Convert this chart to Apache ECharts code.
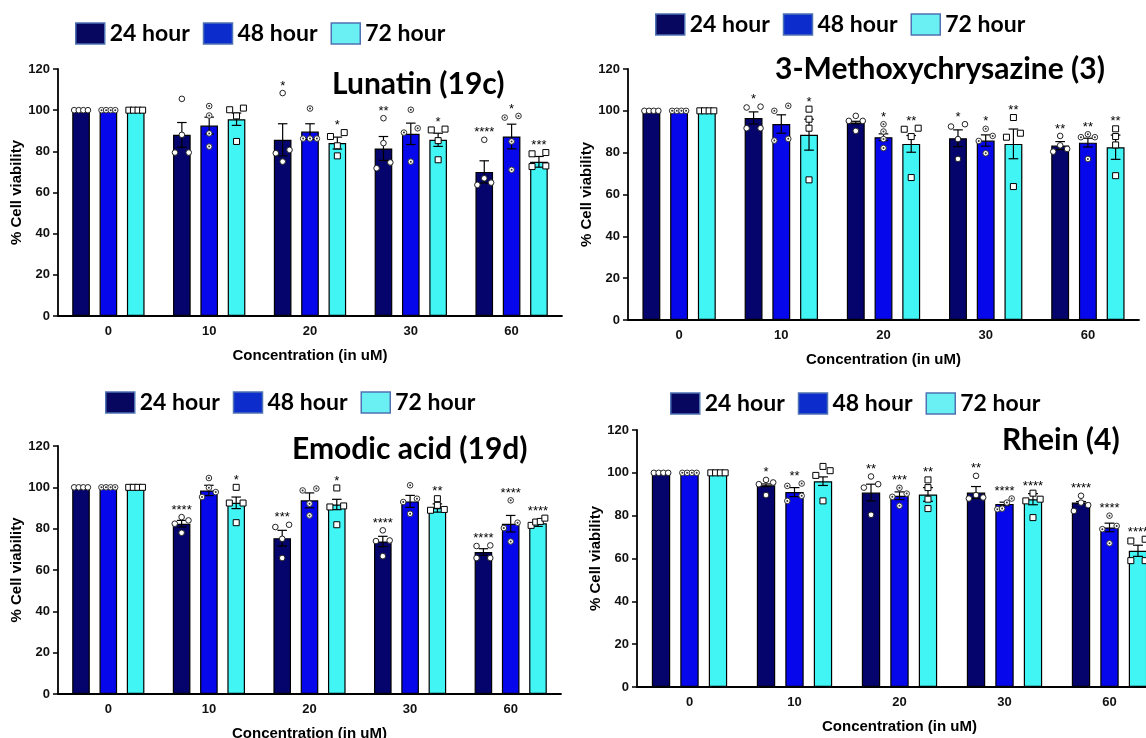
<!DOCTYPE html>
<html><head><meta charset="utf-8">
<script src="https://cdn.jsdelivr.net/npm/echarts@6/dist/echarts.min.js"></script>
<style>html,body{margin:0;padding:0;background:#fff}#c{width:1146px;height:738px}</style>
</head><body><div id="c"></div>
<script>
// ---------- shared ----------
const categories = ['0', '10', '20', '30', '60'];
const hours = ['24 hour', '48 hour', '72 hour'];
const yMin = 0, yMax = 120, yStep = 20;
const titles = ['Lunatin (19c)', '3-Methoxychrysazine (3)', 'Emodic acid (19d)', 'Rhein (4)'];

// ---------- Lunatin (19c) ----------
const lunMean24 = [100, 88.0, 85.6, 81.4, 70.0];
const lunSem24  = [0, 6.0, 7.8, 5.8, 5.4];
const lunPts24  = [[100,100,100,100],[105.5,88,79.4,79.4],[108.3,80.7,79.1,75],[96.1,84,74.6,71.8],[85.6,66.9,63.7,64.8]];
const lunStar24 = ['', '', '*', '**', '****'];
const lunMean48 = [100, 92.5, 89.6, 88.5, 87.2];
const lunSem48  = [0, 4.1, 3.8, 5.2, 6.0];
const lunPts48  = [[100,100,100,100],[102,97.4,88.7,82.3],[100.8,86.2,86.2,86.2],[100.2,91.2,89.1,75],[96.4,97.2,84.8,71]];
const lunStar48 = ['', '', '', '', '*'];
const lunMean72 = [100, 95.6, 84.0, 85.6, 74.9];
const lunSem72  = [0, 3.0, 2.9, 3.2, 2.6];
const lunPts72  = [[100,100,100,100],[100.2,101,97.2,84.8],[89.1,87.2,82.7,77.8],[90.4,90.8,85.2,75.9],[78.8,79.4,72.6,72.9]];
const lunStar72 = ['', '', '*', '*', '***'];

// ---------- 3-Methoxychrysazine (3) ----------
const metMean24 = [100, 96.6, 94.4, 86.9, 83.4];
const metSem24  = [0, 2.9, 0.6, 4.0, 1.9];
const metPts24  = [[100,100,100,100],[101.6,102,91.7,91.7],[95.2,95.2,97.6,90.4],[92.5,93.6,86.5,77],[88,83.5,81.8,80.5]];
const metStar24 = ['', '*', '', '*', '**'];
const metMean48 = [100, 93.7, 87.4, 85.8, 84.8];
const metSem48  = [0, 4.4, 1.6, 2.7, 2.1];
const metPts48  = [[100,100,100,100],[100,102.4,85.8,86.6],[93.6,90.1,86.5,82.2],[91.4,88,85.6,79.7],[88.8,87.4,87.4,77]];
const metStar48 = ['', '', '*', '*', '**'];
const metMean72 = [100, 88.6, 84.2, 84.2, 82.6];
const metSem72  = [0, 7.4, 4.0, 7.1, 5.8];
const metPts72  = [[100,100,100,100],[100.8,96,91.7,67],[91.2,91.7,87.7,68.1],[96.8,89.3,87.4,63.8],[91.4,87.7,83.7,69]];
const metStar72 = ['', '*', '**', '**', '**'];

// ---------- Emodic acid (19d) ----------
const emoMean24 = [100, 82.4, 75.4, 73.8, 68.7];
const emoSem24  = [0, 1.6, 3.8, 2.5, 1.6];
const emoPts24  = [[100,100,100,100],[84,85.6,82.4,78],[80.8,81.9,75.1,65.8],[79.2,74.3,74,66.7],[71.6,71.9,65.8,65.8]];
const emoStar24 = ['', '****', '***', '****', '****'];
const emoMean48 = [100, 98.5, 93.7, 93.2, 82.4];
const emoSem48  = [0, 2.5, 3.6, 2.9, 4.0];
const emoPts48  = [[100,100,100,100],[104.5,99.8,97.7,95.3],[98.5,99.4,92.1,86.4],[101,94.5,92.9,87.2],[93.7,82.9,80.3,73.8]];
const emoStar48 = ['', '', '', '', '****'];
const emoMean72 = [100, 92.5, 91.7, 90.0, 82.6];
const emoSem72  = [0, 2.8, 2.5, 2.0, 1.5];
const emoPts72  = [[100,100,100,100],[100,92.4,92.4,82.9],[99.7,91,90.5,81.9],[94.5,91.3,89.3,88.9],[81.6,83.2,83.5,85.1]];
const emoStar72 = ['', '*', '*', '**', '****'];

// ---------- Rhein (4) ----------
const rheMean24 = [100, 94.2, 90.8, 90.8, 86.1];
const rheSem24  = [0, 0.6, 3.9, 2.8, 0.5];
const rhePts24  = [[100,100,100,100],[94.7,95.5,96.7,89.6],[98.3,94.7,93.1,80.4],[98.6,89.6,88,88.5],[89.3,86.1,84.9,82.2]];
const rheStar24 = ['', '*', '**', '**', '****'];
const rheMean48 = [100, 91.0, 89.3, 85.5, 74.5];
const rheSem48  = [0, 2.1, 1.8, 0.8, 2.0];
const rhePts48  = [[100,100,100,100],[93.9,95,89.3,86.9],[93,90.3,88.8,84.6],[86.1,88,83.3,83],[80,75.2,73.7,67.1]];
const rheStar48 = ['', '**', '***', '****', '****'];
const rheMean72 = [100, 96.1, 89.9, 87.7, 63.6];
const rheSem72  = [0, 2.0, 3.2, 2.6, 2.6];
const rhePts72  = [[100,100,100,100],[103,101,98.8,86.9],[96.7,93.1,87.7,83.3],[90.5,87.7,86.9,79.1],[68.2,69,59,59]];
const rheStar72 = ['', '', '**', '****', '****'];

// ---------- styles / layout ----------
const barColors = ['#04046c', '#0707ec', '#42f5f5'];
const legendColors = ['#07075f', '#0d2ccc', '#6aeff3'];
const BAR_W = 0.175, BAR_GAP = 0.55;
const AX = "'Liberation Sans', Arial, sans-serif";
const CAL = "Lato, 'Open Sans', sans-serif";

const panels = [
  {grid:{left:58, top:69, width:504, height:247}, legend:{left:75, top:22}, title:{left:332, top:68},
   mean:[lunMean24,lunMean48,lunMean72], sem:[lunSem24,lunSem48,lunSem72], pts:[lunPts24,lunPts48,lunPts72], star:[lunStar24,lunStar48,lunStar72]},
  {grid:{left:628, top:69, width:511, height:251}, legend:{left:655, top:13}, title:{left:775, top:53},
   mean:[metMean24,metMean48,metMean72], sem:[metSem24,metSem48,metSem72], pts:[metPts24,metPts48,metPts72], star:[metStar24,metStar48,metStar72]},
  {grid:{left:58, top:446, width:503, height:248}, legend:{left:105, top:391}, title:{left:292, top:433},
   mean:[emoMean24,emoMean48,emoMean72], sem:[emoSem24,emoSem48,emoSem72], pts:[emoPts24,emoPts48,emoPts72], star:[emoStar24,emoStar48,emoStar72]},
  {grid:{left:637, top:430, width:525, height:257}, legend:{left:670, top:392}, title:{left:1002, top:424},
   mean:[rheMean24,rheMean48,rheMean72], sem:[rheSem24,rheSem48,rheSem72], pts:[rhePts24,rhePts48,rhePts72], star:[rheStar24,rheStar48,rheStar72]}
];

function marker(h, x, y) {
  if (h === 2) return [{type:'rect', shape:{x:x-3, y:y-3, width:6, height:6}, style:{fill:'#fff', stroke:'#000', lineWidth:1}}];
  if (h === 1) return [
    {type:'circle', shape:{cx:x, cy:y, r:2.8}, style:{fill:'#fff', stroke:'#333', lineWidth:1}},
    {type:'circle', shape:{cx:x, cy:y, r:1}, style:{fill:'#333'}}];
  return [{type:'circle', shape:{cx:x, cy:y, r:2.8}, style:{fill:'#fff', stroke:'#222', lineWidth:1}}];
}

function customSeries(p, h) {
  const P = panels[p];
  const pts = P.pts[h], stars = P.star[h];
  return {
    type:'custom', xAxisIndex:p, yAxisIndex:p, z:5, clip:false, silent:true,
    data: P.mean[h].map((m, i) => [i, m, P.sem[h][i]]),
    encode:{x:0, y:1},
    renderItem: function (params, api) {
      const i = api.value(0), m = api.value(1), s = api.value(2);
      const catW = api.size([1, 0])[0];
      const bw = catW * BAR_W, gap = bw * BAR_GAP, total = 3 * bw + 2 * gap;
      const cx = api.coord([i, 0])[0] - total / 2 + bw / 2 + h * (bw + gap);
      const children = [];
      const yT = api.coord([i, m + s])[1], yB = api.coord([i, m - s])[1];
      let top = api.coord([i, m])[1];
      if (s > 0) {
        const cw = bw * 0.27;
        const st = {stroke:'#000', lineWidth:1.2};
        children.push({type:'line', shape:{x1:cx, y1:yT, x2:cx, y2:yB}, style:st});
        children.push({type:'line', shape:{x1:cx-cw, y1:yT, x2:cx+cw, y2:yT}, style:st});
        children.push({type:'line', shape:{x1:cx-cw, y1:yB, x2:cx+cw, y2:yB}, style:st});
        top = Math.min(top, yT);
      }
      const vals = pts[params.dataIndex].map(v => ({v:v, y:api.coord([i, v])[1]}));
      vals.sort((a, b) => a.y - b.y);
      const clusters = []; let cur = [vals[0]];
      for (let k = 1; k < vals.length; k++) {
        if (vals[k].y - vals[k-1].y < 6) cur.push(vals[k]); else { clusters.push(cur); cur = [vals[k]]; }
      }
      clusters.push(cur);
      const half = bw * 0.39;
      clusters.forEach(c => {
        const n = c.length;
        let placed;
        if (n === 1) placed = [[c[0], 0]];
        else if (n === 3) placed = [[c[0], 0], [c[2], -half], [c[1], half]];
        else placed = c.slice().reverse().map((e, k) => [e, -half + 2 * half * k / (n - 1)]);
        placed.forEach(([e, off]) => { children.push(...marker(h, cx + off, e.y)); top = Math.min(top, e.y - 3); });
      });
      const st = stars[params.dataIndex];
      if (st) children.push({type:'text', style:{text:st, x:cx, y:top - 4, align:'center', verticalAlign:'middle',
        fontFamily:AX, fontSize:13, fill:'#000'}});
      return {type:'group', children:children};
    }
  };
}

const option = {
  animation:false,
  backgroundColor:'#fff',
  title: panels.map((P, p) => ({text:titles[p], left:P.title.left, top:P.title.top, padding:0,
    textStyle:{fontFamily:CAL, fontWeight:'bold', fontSize:30, lineHeight:32, color:'#000'}})),
  legend: panels.map(P => ({left:P.legend.left, top:P.legend.top, padding:0, orient:'horizontal',
    itemWidth:29, itemHeight:21, itemGap:13, icon:'rect', selectedMode:false,
    textStyle:{fontFamily:CAL, fontWeight:'bold', fontSize:23, lineHeight:22, color:'#000'},
    data: hours.map((n, k) => ({name:n, itemStyle:{color:legendColors[k], borderColor:'#4f72b2', borderWidth:1.5}}))})),
  grid: panels.map(P => Object.assign({outerBoundsMode:'none', containLabel:false}, P.grid)),
  xAxis: panels.map((P, p) => ({type:'category', gridIndex:p, data:categories,
    name:'Concentration (in uM)', nameLocation:'middle', nameGap:32,
    nameTextStyle:{fontFamily:AX, fontWeight:'bold', fontSize:15, color:'#000', lineHeight:15},
    axisLine:{lineStyle:{color:'#000', width:1.8}},
    axisTick:{alignWithLabel:true, length:5, lineStyle:{color:'#000', width:1.5}},
    axisLabel:{fontFamily:AX, fontWeight:'bold', fontSize:13, color:'#111', margin:9}})),
  yAxis: panels.map((P, p) => ({type:'value', gridIndex:p, min:yMin, max:yMax, interval:yStep,
    name:'% Cell viability', nameLocation:'middle', nameGap:31, nameRotate:90,
    nameTextStyle:{fontFamily:AX, fontWeight:'bold', fontSize:15, color:'#000'},
    axisLine:{show:true, lineStyle:{color:'#000', width:1.8}},
    axisTick:{show:true, length:5, lineStyle:{color:'#000', width:1.5}},
    splitLine:{show:false},
    axisLabel:{fontFamily:AX, fontWeight:'bold', fontSize:13, color:'#111', margin:8}})),
  series: []
};

panels.forEach((P, p) => {
  hours.forEach((name, h) => {
    option.series.push({type:'bar', name:name, xAxisIndex:p, yAxisIndex:p, data:P.mean[h],
      barWidth:(BAR_W * 100) + '%', barGap:(BAR_GAP * 100) + '%', z:2,
      itemStyle:{color:barColors[h], borderColor:'#000', borderWidth:1.2}});
  });
  hours.forEach((name, h) => option.series.push(customSeries(p, h)));
});

const chart = echarts.init(document.getElementById('c'), null, {renderer:'canvas'});
chart.setOption(option);
</script></body></html>
